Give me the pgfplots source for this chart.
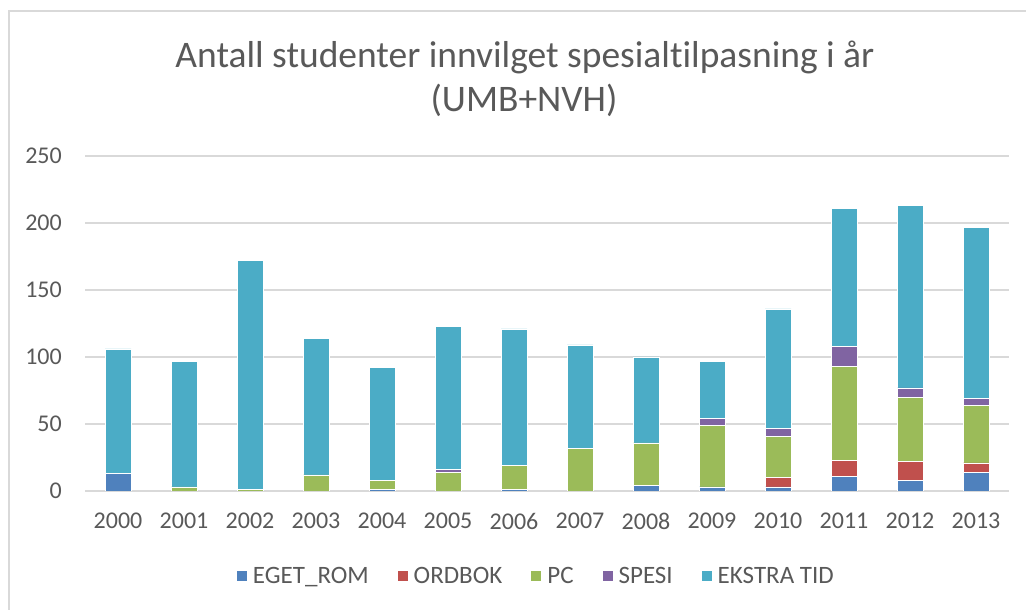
\documentclass[border=0pt]{standalone}
\usepackage{fontspec}
\setmainfont{Carlito}[Ligatures={NoCommon,NoContextual}]
\usepackage{pgfplots}
\pgfplotsset{compat=1.18}
\definecolor{txt}{HTML}{595959}
\definecolor{grd}{HTML}{D9D9D9}
\definecolor{c1}{HTML}{4F81BD}
\definecolor{c2}{HTML}{C0504D}
\definecolor{c3}{HTML}{9BBB59}
\definecolor{c4}{HTML}{8064A2}
\definecolor{c5}{HTML}{4BACC6}
\begin{document}
\begin{tikzpicture}[x=1bp,y=1bp]
\useasboundingbox (0,0) rectangle (1026,610);
\draw[grd, line width=1.2bp] (9,0) -- (9,599) -- (1026,599);
\node[txt, font=\fontsize{37.5bp}{45bp}\selectfont, anchor=base, inner sep=0pt] at (525,542) {Antall studenter innvilget spesialt\kern0pt ilpasning i år};
\node[txt, font=\fontsize{37.5bp}{45bp}\selectfont, anchor=base, inner sep=0pt] at (524,498) {(UMB+NVH)};
\begin{axis}[
  at={(85bp,119bp)}, anchor=south west,
  scale only axis, width=924bp, height=335bp,
  xmin=-0.5, xmax=13.5, ymin=0, ymax=250,
  ytick={0,50,...,250},
  xtick={0,...,13},
  xticklabels={2000,2001,2002,2003,2004,2005,2006,2007,2008,2009,2010,2011,2012,2013},
  ymajorgrids, grid style={grd, line width=1.3bp},
  axis line style={draw=none},
  major tick length=0pt,
  tick label style={txt, font=\fontsize{24bp}{28bp}\selectfont, inner sep=0pt},
  /pgf/number format/assume math mode=true,
  yticklabel shift=23bp,
  xticklabel shift=22bp,
  ybar stacked, bar width=26bp,
  legend style={at={(0.4885,-0.254)}, anchor=center, draw=none, legend columns=5,
    font=\fontsize{25bp}{29bp}\selectfont, text=txt,
    /tikz/every odd column/.append style={column sep=4bp},
    /tikz/every even column/.append style={column sep=27bp},
    inner sep=0pt},
  legend cell align=left,
  legend image code/.code={\draw[#1,draw=none] (0bp,-5bp) rectangle (10bp,5bp);},
]
\addplot[fill=c1, draw=white, line width=0.5bp] coordinates {(0,13) (1,0) (2,0) (3,0) (4,1) (5,0) (6,1) (7,0) (8,4) (9,3) (10,3) (11,11) (12,8) (13,14)};
\addplot[fill=c2, draw=white, line width=0.5bp] coordinates {(0,0) (1,0) (2,0) (3,0) (4,0) (5,0) (6,0) (7,0) (8,0) (9,0) (10,7) (11,12) (12,14) (13,7)};
\addplot[fill=c3, draw=white, line width=0.5bp] coordinates {(0,0) (1,3) (2,1) (3,12) (4,7) (5,14) (6,18) (7,32) (8,32) (9,46) (10,31) (11,70) (12,48) (13,43)};
\addplot[fill=c4, draw=white, line width=0.5bp] coordinates {(0,0) (1,0) (2,0) (3,0) (4,0) (5,2) (6,0) (7,0) (8,0) (9,5) (10,6) (11,15) (12,7) (13,5)};
\addplot[fill=c5, draw=white, line width=0.5bp] coordinates {(0,93) (1,94) (2,171) (3,102) (4,84) (5,107) (6,102) (7,77) (8,64) (9,43) (10,89) (11,103) (12,136) (13,128)};
\legend{EGET\_ROM, ORDBOK, PC, SPESI, EKSTRA TID}
\end{axis}
\end{tikzpicture}
\end{document}
